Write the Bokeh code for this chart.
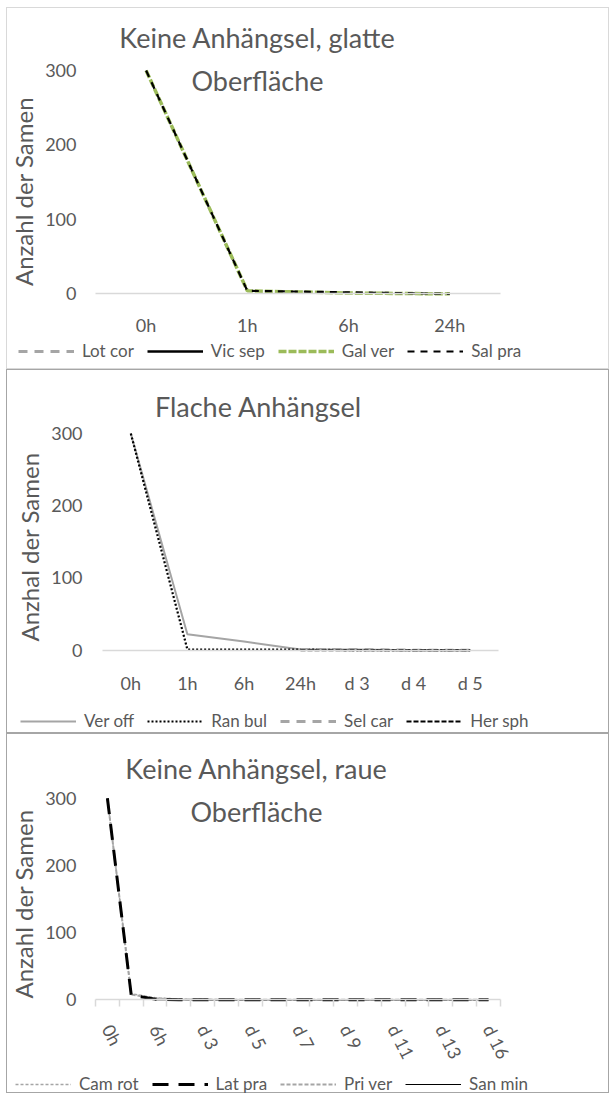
from bokeh.plotting import figure
from bokeh.models import Range1d, FixedTicker, Label, Legend, LegendItem, Spacer
from bokeh.layouts import column, row
from bokeh.embed import file_html
from bokeh.resources import INLINE

nan = float("nan")

# ---------------- data ----------------
cats1 = ["0h", "1h", "6h", "24h"]
lot_cor = [nan, nan, nan, nan]
vic_sep = [nan, nan, nan, nan]
gal_ver = [300, 4, 1, 0]
sal_pra = [300, 4, 2, 0]

cats2 = ["0h", "1h", "6h", "24h", "d 3", "d 4", "d 5"]
ver_off = [300, 22, 12, 1, 1, 0, 0]
ran_bul = [300, 1, 1, 1, 0, 0, 0]
sel_car = [nan, nan, nan, 1, 1, 0, 0]
her_sph = [nan, nan, nan, 0, 0, 0, 0]

cats3 = ["0h", "1h", "6h", "24h", "d 3", "d 4", "d 5", "d 6", "d 7", "d 8",
         "d 9", "d 10", "d 11", "d 12", "d 13", "d 14", "d 16"]
cam_rot = [300, 9, 3, 1, 1, 0, 0, 0, 0, 0, 0, 0, 0, 0, 0, 0, 0]
lat_pra = [300, 7, 1, 0, 0, 0, 0, 0, 0, 0, 0, 0, 0, 0, 0, 0, 0]
pri_ver = [300, 8, 2, 1, 0, 0, 0, 0, 0, 0, 0, 0, 0, 0, 0, 0, 0]
san_min = [nan, nan, 0, 0, 0, 0, 0, 0, 0, 0, 0, 0, 0, 0, 0, 0, 0]

y_ticks = [0, 100, 200, 300]
y_title_1 = "Anzahl der Samen"
y_title_2 = "Anzhal der Samen"
y_title_3 = "Anzahl der Samen"

FONT = "Lato"
TXT = "#595959"
GREY = "#a5a5a5"
GREEN = "#9bbb59"
BLACK = "#000000"


def make_fig(cats, h, xr, yr, border_color, ytitle, ybounds, ystand, xstand):
    n = len(cats)
    p = figure(width=603, height=h, x_range=Range1d(*xr), y_range=Range1d(*yr),
               output_backend="svg", toolbar_location=None,
               min_border=0)
    p.styles = {"border": "1px solid " + border_color}
    p.outline_line_color = None
    p.xgrid.grid_line_color = None
    p.ygrid.grid_line_color = None
    # x axis drawn at y = 0
    xa = p.xaxis[0]
    xa.fixed_location = 0
    xa.bounds = (-0.5, n - 0.5)
    xa.ticker = FixedTicker(ticks=list(range(n)))
    xa.major_label_overrides = {i: c for i, c in enumerate(cats)}
    xa.axis_line_color = "#d9d9d9"
    xa.axis_line_width = 1.5
    xa.major_label_standoff = xstand
    # y axis drawn at the left edge of the plot area
    ya = p.yaxis[0]
    ya.fixed_location = -0.5
    ya.ticker = FixedTicker(ticks=y_ticks)
    ya.bounds = ybounds
    ya.axis_line_color = None
    ya.major_label_standoff = ystand
    ya.axis_label = ytitle
    ya.axis_label_text_font = FONT
    ya.axis_label_text_font_size = "24px"
    ya.axis_label_text_font_style = "normal"
    ya.axis_label_text_color = TXT
    ya.axis_label_standoff = 4
    for ax in (xa, ya):
        ax.major_tick_line_color = None
        ax.major_tick_out = 0
        ax.major_tick_in = 0
        ax.minor_tick_line_color = None
        ax.major_label_text_font = FONT
        ax.major_label_text_font_size = "18px"
        ax.major_label_text_color = TXT
    return p


def add_title(p, lines, x, ys):
    for t, y in zip(lines, ys):
        p.add_layout(Label(x=x, y=y, text=t, text_align="center", text_baseline="middle",
                           text_font=FONT, text_font_size="27px", text_color=TXT))


def add_legend(p, items, loc):
    lg = Legend(items=[LegendItem(label=l, renderers=[r]) for l, r in items],
                orientation="horizontal", location=loc,
                label_text_font=FONT, label_text_font_size="17px", label_text_color=TXT,
                glyph_width=56, glyph_height=20, label_standoff=8, spacing=13,
                padding=0, margin=0, background_fill_alpha=0, border_line_color=None)
    p.add_layout(lg)


# ---------------- panel 1 ----------------
x1 = list(range(len(cats1)))
p1 = make_fig(cats1, 362, (-1.369, 4.587), (-103.0, 383.3), "#d9d9d9",
              y_title_1, (-24.8, 300), 19, 20)
r11 = p1.line(x1, lot_cor, line_color=GREY, line_width=3, line_dash="9 7")
r12 = p1.line(x1, vic_sep, line_color=BLACK, line_width=2.5)
r13 = p1.line(x1, gal_ver, line_color=GREEN, line_width=3.5, line_dash="8 2")
r14 = p1.line(x1, sal_pra, line_color=BLACK, line_width=2.2, line_dash="7 6")
add_title(p1, ["Keine Anhängsel, glatte", "Oberfläche"], 1.10, [345, 287])
add_legend(p1, [("Lot cor", r11), ("Vic sep", r12), ("Gal ver", r13), ("Sal pra", r14)], (11, 9))

# ---------------- panel 2 ----------------
x2 = list(range(len(cats2)))
p2 = make_fig(cats2, 364, (-2.180, 8.480), (-116.7, 387.3), "#a6a6a6",
              y_title_2, (-14.6, 300), 20, 22)
r21 = p2.line(x2, ver_off, line_color=GREY, line_width=2)
r22 = p2.line(x2, ran_bul, line_color=BLACK, line_width=2.2, line_dash="2 2")
r23 = p2.line(x2, sel_car, line_color=GREY, line_width=3, line_dash="9 7")
r24 = p2.line(x2, her_sph, line_color=BLACK, line_width=2, line_dash="5 2")
add_title(p2, ["Flache Anhängsel"], 2.257, [337.5])
add_legend(p2, [("Ver off", r21), ("Ran bul", r22), ("Sel car", r23), ("Her sph", r24)], (13, 3))

# ---------------- panel 3 ----------------
x3 = list(range(len(cats3)))
p3 = make_fig(cats3, 360, (-4.194, 21.12), (-140.9, 394.8), "#a6a6a6",
              y_title_3, (-14, 300), 19, 19)
xa3 = p3.xaxis[0]
xa3.ticker = FixedTicker(ticks=x3[::2], minor_ticks=[i - 0.5 for i in range(len(cats3) + 1)])
xa3.minor_tick_line_color = "#d9d9d9"
xa3.minor_tick_line_width = 1.5
xa3.minor_tick_in = 0
xa3.minor_tick_out = 7
xa3.major_label_orientation = -1.1
r31 = p3.line(x3, cam_rot, line_color=GREY, line_width=1.5, line_dash="3 2")
r32 = p3.line(x3, pri_ver, line_color=GREY, line_width=2, line_dash="4 2")
r33 = p3.line(x3, san_min, line_color=BLACK, line_width=1)
r34 = p3.line(x3, lat_pra, line_color=BLACK, line_width=3, line_dash="16 10")
add_title(p3, ["Keine Anhängsel, raue", "Oberfläche"], 6.26, [344.5, 280])
add_legend(p3, [("Cam rot", r31), ("Lat pra", r34), ("Pri ver", r32), ("San min", r33)], (8, 0))

layout = row(Spacer(width=6), column(Spacer(height=7), p1, p2, p3, spacing=0), spacing=0)
open("out.html", "w").write(file_html(layout, INLINE))
